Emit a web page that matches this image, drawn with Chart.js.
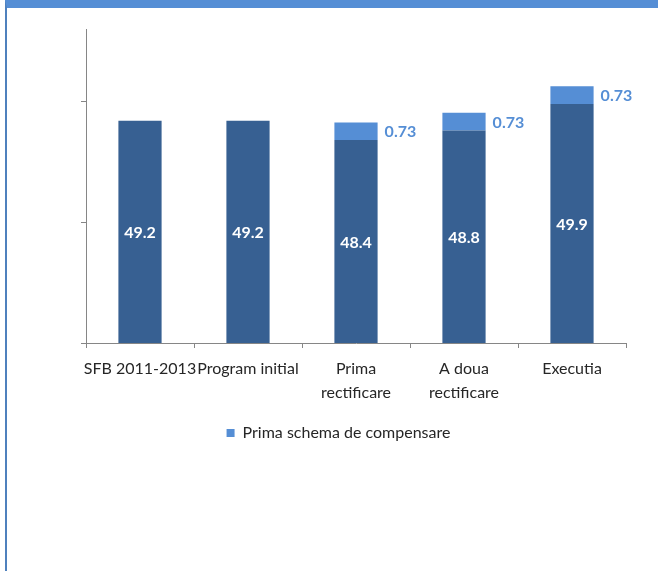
<!DOCTYPE html>
<html>
<head>
<meta charset="utf-8">
<script src="https://cdn.jsdelivr.net/npm/chart.js@4.4.1/dist/chart.umd.min.js"></script>
<style>
  html, body { margin: 0; padding: 0; background: #ffffff; }
  #wrap { position: relative; width: 658px; height: 571px; overflow: hidden; }
  #frame { position: absolute; left: 5px; top: 0; width: 651px; height: 563px;
           border-left: 2px solid #4F81BD; border-top: 8px solid #558ED5; }
  #c { position: absolute; left: 0; top: 0; }
</style>
</head>
<body>
<div id="wrap">
  <div id="frame"></div>
  <canvas id="c" width="658" height="571"></canvas>
</div>
<script>
// ---- data ----
const categories = [
  'SFB 2011-2013',
  'Program initial',
  ['Prima', 'rectificare'],
  ['A doua', 'rectificare'],
  'Executia'
];
const baseValues = [49.2, 49.2, 48.4, 48.8, 49.9];
const compensationValues = [null, null, 0.73, 0.73, 0.73];
const compensationLabel = 'Prima schema de compensare';
const yTickValues = [40, 45, 50];

const DARK = '#376092';
const LIGHT = '#558ED5';
const AXIS = '#868686';
const FONT = 'Lato, "Open Sans", sans-serif';

const labelPlugin = {
  id: 'barLabels',
  afterDatasetsDraw(chart) {
    const ctx = chart.ctx;
    const area = chart.chartArea;
    ctx.save();
    ctx.font = 'bold 16px ' + FONT;
    ctx.textBaseline = 'middle';
    chart.getDatasetMeta(0).data.forEach((el, i) => {
      const v = baseValues[i];
      if (v == null) return;
      const bottom = Math.min(el.base, area.bottom);
      ctx.fillStyle = '#ffffff';
      ctx.textAlign = 'center';
      ctx.fillText(v.toFixed(1), el.x, (el.y + bottom) / 2 + 1);
    });
    chart.getDatasetMeta(1).data.forEach((el, i) => {
      const v = compensationValues[i];
      if (v == null) return;
      ctx.fillStyle = LIGHT;
      ctx.textAlign = 'left';
      ctx.fillText(v.toFixed(2), el.x + el.width / 2 + 7, (el.y + el.base) / 2 + 1);
    });
    ctx.restore();
  }
};

new Chart(document.getElementById('c'), {
  type: 'bar',
  data: {
    labels: categories,
    datasets: [
      { label: 'Baza', data: baseValues, backgroundColor: DARK,
        barPercentage: 0.4, categoryPercentage: 1.0 },
      { label: compensationLabel, data: compensationValues, backgroundColor: LIGHT,
        barPercentage: 0.4, categoryPercentage: 1.0 }
    ]
  },
  options: {
    responsive: false,
    animation: false,
    layout: { padding: { left: 51, right: 32, top: 29, bottom: 120 } },
    plugins: {
      tooltip: { enabled: false },
      title: { display: false },
      legend: {
        position: 'bottom',
        labels: {
          filter: (item) => item.datasetIndex === 1,
          boxWidth: 8, boxHeight: 8, padding: 11,
          color: '#262626',
          font: { family: FONT, size: 16 }
        }
      }
    },
    scales: {
      x: {
        stacked: true,
        grid: { display: true, drawOnChartArea: false, drawTicks: true, tickLength: 5, color: AXIS, offset: true },
        border: { display: true, color: AXIS, width: 1 },
        ticks: {
          color: '#262626', autoSkip: false, maxRotation: 0, minRotation: 0, padding: 9,
          font: { family: FONT, size: 16, lineHeight: 1.5 }
        }
      },
      y: {
        stacked: true,
        min: 40, max: 53,
        afterBuildTicks: (scale) => { scale.ticks = yTickValues.map(v => ({ value: v })); },
        afterFit: (scale) => { scale.width = 35; },
        grid: { display: true, drawOnChartArea: false, drawTicks: true, tickLength: 5, color: AXIS },
        border: { display: true, color: AXIS, width: 1 },
        ticks: { display: false }
      }
    }
  },
  plugins: [labelPlugin]
});
</script>
</body>
</html>
